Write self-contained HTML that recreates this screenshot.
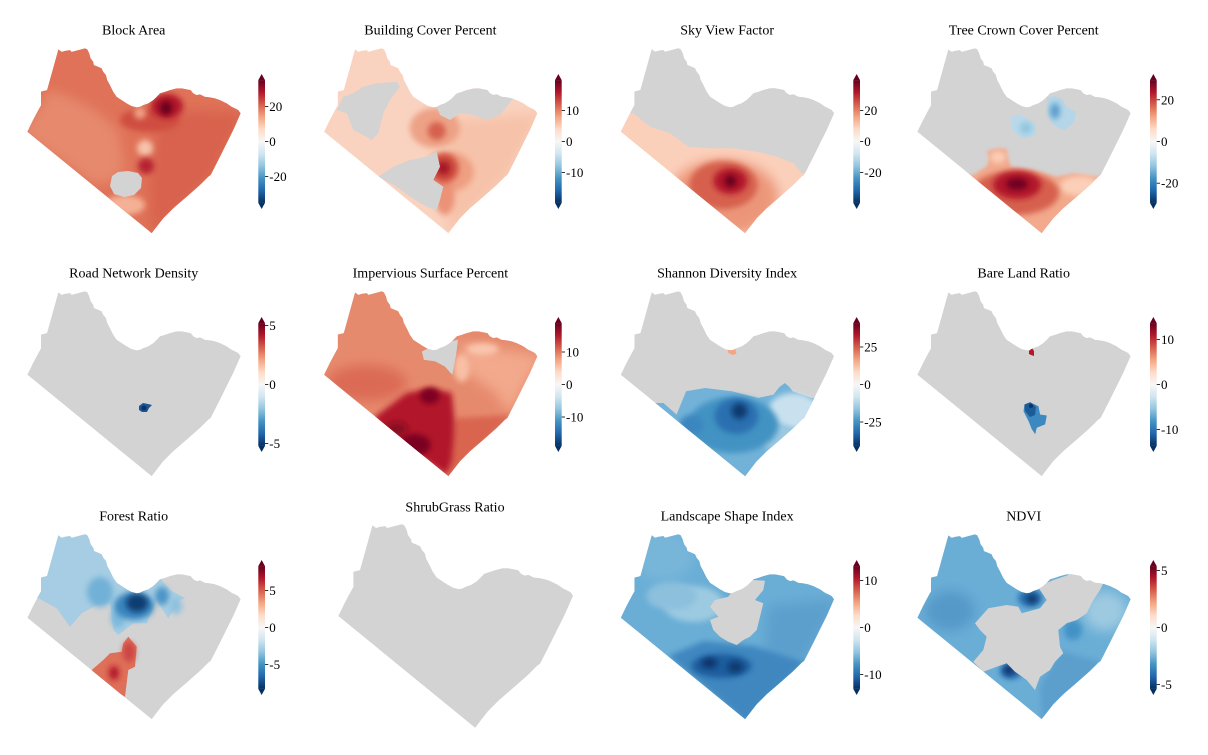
<!DOCTYPE html>
<html><head><meta charset="utf-8"><style>
html,body{margin:0;padding:0;background:#fff;}
svg{display:block;}
text{font-family:"Liberation Serif","DejaVu Serif",serif;fill:#000;}
.t{font-size:14px;text-anchor:middle;}
.k{font-size:13px;}
</style></head><body>
<svg width="1208" height="755" viewBox="0 0 1208 755" xmlns="http://www.w3.org/2000/svg">
<defs>
<path id="T" d="M58.3,49.3 L61.7,51.7 L65,50.7 L70,50 L71.7,51.7 L78.3,50 L85,48.3 L87.3,49.3 L89.3,53.3 L90.7,58.3 L93.3,61.7 L94,65 L98.3,66.7 L101.7,68.3 L103.3,71.7 L106,75 L107.3,80 L110,85 L113.3,91.7 L116.7,96.7 L121.7,100 L126.7,103.3 L131.7,106 L136.7,107.3 L140,106.7 L143.3,105 L148.3,103.3 L153.3,100 L156.7,96.7 L160,93.3 L165,91.7 L170,90 L176.7,88.3 L181.7,88.3 L186.7,89.3 L190.7,90 L193.3,93.3 L196.7,95 L200,94.3 L205,96.7 L210,97.3 L215,98.3 L220,100 L226.7,103.3 L231.7,106.7 L235,108.3 L238.3,110 L240.7,113.3 L233.3,130 L226.7,143.3 L220,156.7 L213.3,170 L210.7,175 L208.3,176.7 L200,185 L186.7,196.7 L173.3,208.3 L163.3,218.3 L156.7,226.7 L151.7,233.3 L27.3,131.7 L33,120 L38.3,110 L41,105.3 L41,91.5 L47,90 L58.3,49.3 Z"/>
<clipPath id="C"><path d="M58.3,49.3 L61.7,51.7 L65,50.7 L70,50 L71.7,51.7 L78.3,50 L85,48.3 L87.3,49.3 L89.3,53.3 L90.7,58.3 L93.3,61.7 L94,65 L98.3,66.7 L101.7,68.3 L103.3,71.7 L106,75 L107.3,80 L110,85 L113.3,91.7 L116.7,96.7 L121.7,100 L126.7,103.3 L131.7,106 L136.7,107.3 L140,106.7 L143.3,105 L148.3,103.3 L153.3,100 L156.7,96.7 L160,93.3 L165,91.7 L170,90 L176.7,88.3 L181.7,88.3 L186.7,89.3 L190.7,90 L193.3,93.3 L196.7,95 L200,94.3 L205,96.7 L210,97.3 L215,98.3 L220,100 L226.7,103.3 L231.7,106.7 L235,108.3 L238.3,110 L240.7,113.3 L233.3,130 L226.7,143.3 L220,156.7 L213.3,170 L210.7,175 L208.3,176.7 L200,185 L186.7,196.7 L173.3,208.3 L163.3,218.3 L156.7,226.7 L151.7,233.3 L27.3,131.7 L33,120 L38.3,110 L41,105.3 L41,91.5 L47,90 L58.3,49.3 Z"/></clipPath>
<linearGradient id="cbg" x1="0" y1="0" x2="0" y2="1">
<stop offset="0" stop-color="#67001f"/><stop offset="0.1" stop-color="#b2182b"/><stop offset="0.2" stop-color="#d6604d"/><stop offset="0.3" stop-color="#f4a582"/><stop offset="0.4" stop-color="#fddbc7"/><stop offset="0.5" stop-color="#f7f7f7"/><stop offset="0.6" stop-color="#d1e5f0"/><stop offset="0.7" stop-color="#92c5de"/><stop offset="0.8" stop-color="#4393c3"/><stop offset="0.9" stop-color="#2166ac"/><stop offset="1" stop-color="#053061"/>
</linearGradient>
<filter id="b2" x="-50%" y="-50%" width="200%" height="200%"><feGaussianBlur stdDeviation="1.5"/></filter>
<filter id="b3" x="-50%" y="-50%" width="200%" height="200%"><feGaussianBlur stdDeviation="3"/></filter>
<filter id="b6" x="-50%" y="-50%" width="200%" height="200%"><feGaussianBlur stdDeviation="6"/></filter>
<g id="CB">
<polygon points="0,-61.4 6.7,-61.4 3.35,-67.5" fill="#67001f"/>
<rect x="0" y="-61.4" width="6.7" height="122.8" fill="url(#cbg)"/>
<polygon points="0,61.4 6.7,61.4 3.35,67.5" fill="#053061"/>
</g>
</defs>
<rect width="1208" height="755" fill="#fff"/>

<!-- Panel 1: Block Area -->
<g transform="translate(0,0)">
<g clip-path="url(#C)">
<use href="#T" fill="#df7258"/>
<path d="M20,132 L41,105 L47,90 L65,95 L95,110 L118,130 L125,170 L110,182 L95,185 Z" fill="#e6896d" filter="url(#b6)"/>
<path d="M160,110 L245,113 L212,176 L152,236 L150,180 Z" fill="#d8624e" filter="url(#b6)"/>
<ellipse cx="150" cy="120" rx="30" ry="12" fill="#cf4e40" filter="url(#b3)"/>
<ellipse cx="167" cy="106" rx="16" ry="12" fill="#b2182b" filter="url(#b3)"/>
<ellipse cx="166" cy="108" rx="6" ry="7" fill="#67001f" filter="url(#b3)"/>
<circle cx="140" cy="113" r="6" fill="#f0a286" filter="url(#b3)"/>
<circle cx="145" cy="148" r="8" fill="#f6c3ab" filter="url(#b3)"/>
<circle cx="146" cy="166" r="8" fill="#b52330" filter="url(#b3)"/>
<ellipse cx="125" cy="205" rx="20" ry="10" fill="#f4b195" filter="url(#b3)"/>
<polygon points="112,176 118,172 128,171 138,173 142,178 141,188 134,195 124,197 114,194 110,186" fill="#d3d3d3"/>
</g>
<text class="t" x="133.7" y="34.5">Block Area</text>
</g>

<!-- Panel 2: Building Cover Percent -->
<g transform="translate(296.7,0)">
<g clip-path="url(#C)">
<use href="#T" fill="#f9d3c0"/>
<path d="M150,120 L245,113 L212,176 L152,236 L150,190 Z" fill="#f6c2a9" filter="url(#b6)"/>
<ellipse cx="138" cy="128" rx="25" ry="20" fill="#eda286" filter="url(#b3)"/>
<circle cx="140" cy="131" r="9" fill="#d6604d" filter="url(#b3)"/>
<ellipse cx="152" cy="172" rx="25" ry="20" fill="#ef9f82" filter="url(#b3)"/>
<ellipse cx="148" cy="197" rx="10" ry="18" fill="#eb9277" filter="url(#b3)"/>
<circle cx="147" cy="168" r="15" fill="#d05040" filter="url(#b3)"/>
<circle cx="146.6" cy="168" r="7" fill="#a51428" filter="url(#b3)"/>
<polygon points="46.6,96.7 56.6,93.3 66.6,86.7 80,83.3 100,81.7 103.3,86.7 93.3,100 86.6,113.3 81.6,133.3 75,140 70,136.7 56.6,130 50,113.3 40,110" fill="#d3d3d3"/>
<polygon points="140,106.7 153.3,96.7 170,90 186.6,87.3 203.3,91.7 216.6,98.3 203.3,115 190,120 176.6,115 163.3,113.3 153.3,120 143.3,115" fill="#d3d3d3"/>
<polygon points="81.6,176.7 96.6,166.7 113.3,160 130,156.7 140,151.7 143.3,166.7 136.6,180 146.6,186.7 143.3,200 140,210 130,206.7 113.3,196.7 100,186.7" fill="#d3d3d3"/>
</g>
<text class="t" x="133.7" y="34.5">Building Cover Percent</text>
</g>

<!-- Panel 3: Sky View Factor -->
<g transform="translate(593.4,0)">
<g clip-path="url(#C)">
<use href="#T" fill="#fbd0bb"/>
<ellipse cx="130" cy="198" rx="55" ry="38" fill="#ec9679" filter="url(#b6)"/>
<ellipse cx="130" cy="185" rx="34" ry="24" fill="#d6604d" filter="url(#b3)"/>
<ellipse cx="137" cy="181" rx="17" ry="13" fill="#b2182b" filter="url(#b3)"/>
<circle cx="137" cy="181" r="6" fill="#67001f" filter="url(#b3)"/>
<polygon points="0,0 260,0 260,170 208.3,173.3 200,163.3 183.3,156.7 163.3,151.7 140,148.3 116.6,148.3 95,146.7 76.6,133.3 56.6,126.7 40,113.3 0,110" fill="#d3d3d3"/>
</g>
<text class="t" x="133.7" y="34.5">Sky View Factor</text>
</g>

<!-- Panel 4: Tree Crown Cover Percent -->
<g transform="translate(890,0)">
<g clip-path="url(#C)">
<use href="#T" fill="#d3d3d3"/>
<polygon points="0,175 83.3,175 97,166 99,158 97,151 104,149 110,148 116.6,149 118,158 121,166.7 143.3,170 166.6,176.7 183.3,173.3 210,176.7 260,180 260,260 0,260" fill="#f2a98c" filter="url(#b2)"/>
<ellipse cx="190" cy="186" rx="20" ry="10" fill="#fbcfb8" filter="url(#b3)"/>
<ellipse cx="108" cy="157" rx="8" ry="6" fill="#fbcdb5" filter="url(#b3)"/>
<ellipse cx="125" cy="193" rx="44" ry="22" fill="#d6604d" filter="url(#b3)"/>
<ellipse cx="127" cy="185" rx="24" ry="14" fill="#b2182b" filter="url(#b3)"/>
<ellipse cx="127" cy="184" rx="11" ry="6" fill="#6f0520" filter="url(#b3)"/>
<polygon points="157,98 165,96 172,99 177,107 186,112 184,122 175,130 168,128 162,123 158,113" fill="#b5d6e8"/>
<ellipse cx="165" cy="111" rx="5" ry="8" fill="#5a9fcd" filter="url(#b3)"/>
<polygon points="120,118 130,114 138,120 145,124 146,133 138,138 128,136 122,128" fill="#b9d9ea"/>
<circle cx="136" cy="128" r="6" fill="#92c5de" filter="url(#b3)"/>
</g>
<text class="t" x="133.7" y="34.5">Tree Crown Cover Percent</text>
</g>

<!-- Panel 5: Road Network Density -->
<g transform="translate(0,243)">
<g clip-path="url(#C)">
<use href="#T" fill="#d3d3d3"/>
<polygon points="139,163 143,160 148,161 152,162 149,165 147,169 142,169 139,167" fill="#1d5594"/>
<circle cx="144" cy="165" r="2.5" fill="#0b3366"/>
</g>
<text class="t" x="133.7" y="34.5">Road Network Density</text>
</g>

<!-- Panel 6: Impervious Surface Percent -->
<g transform="translate(296.7,243)">
<g clip-path="url(#C)">
<use href="#T" fill="#e68a6d"/>
<path d="M160,100 L245,113 L232,136 L213,172 L200,150 L170,130 Z" fill="#f3a98c" filter="url(#b6)"/>
<ellipse cx="186" cy="106" rx="16" ry="6" fill="#f9c6ad" filter="url(#b3)"/>
<ellipse cx="165" cy="125" rx="8" ry="14" fill="#f8c0a5" filter="url(#b3)"/>
<ellipse cx="70" cy="140" rx="40" ry="18" fill="#db6a55" filter="url(#b6)"/>
<path d="M160,175 L215,172 L152,236 L150,200 Z" fill="#d96550" filter="url(#b3)"/>
<polygon points="78,174 110,150 135,145 155,150 158,180 155,218 150,232 110,205 85,190" fill="#b2182b" filter="url(#b3)"/>
<ellipse cx="133" cy="153" rx="10" ry="8" fill="#7d0322" filter="url(#b3)"/>
<ellipse cx="118" cy="202" rx="16" ry="11" fill="#7a0020" filter="url(#b3)"/>
<ellipse cx="100" cy="186" rx="11" ry="7" fill="#8a0a24" filter="url(#b3)"/>
<polygon points="125.2,108.5 138.5,101.8 153.7,98.5 161.3,96.8 159.4,111.7 157.5,121.6 155.6,131.7 148,123.4 138.5,118.4 127.1,116.8" fill="#d3d3d3"/>
</g>
<text class="t" x="133.7" y="34.5">Impervious Surface Percent</text>
</g>

<!-- Panel 7: Shannon Diversity Index -->
<g transform="translate(593.4,243)">
<g clip-path="url(#C)">
<use href="#T" fill="#d3d3d3"/>
<polygon points="0,160 70,160 83.2,171.5 92.7,148.3 111.7,145 138.3,148.3 164.9,154.9 180.1,151.6 186,144 191.5,140 196,144 199.1,148.3 218.1,154.9 260,155 260,260 0,260" fill="#72b2d8"/>
<ellipse cx="200" cy="168" rx="25" ry="18" fill="#c9e1ef" filter="url(#b3)"/>
<ellipse cx="185" cy="195" rx="18" ry="14" fill="#9cc9e1" filter="url(#b3)"/>
<ellipse cx="140" cy="182" rx="45" ry="28" fill="#4393c3" filter="url(#b3)"/>
<ellipse cx="143" cy="173" rx="22" ry="18" fill="#2a70b1" filter="url(#b3)"/>
<circle cx="146" cy="168" r="8" fill="#0d3b6f" filter="url(#b3)"/>
<ellipse cx="98" cy="182" rx="12" ry="10" fill="#3a86bf" filter="url(#b3)"/>
<polygon points="134,106 138,104 142,106 143,111 139,112 135,110" fill="#f4a582"/>
</g>
<text class="t" x="133.7" y="34.5">Shannon Diversity Index</text>
</g>

<!-- Panel 8: Bare Land Ratio -->
<g transform="translate(890,243)">
<g clip-path="url(#C)">
<use href="#T" fill="#d3d3d3"/>
<polygon points="139,108 142,105 144,108 144,113 141,112 139,111" fill="#b2182b"/>
<polygon points="134.5,161.5 140.2,159.2 148.5,163.2 150.1,171.5 156.8,172.5 155.1,181.4 146.8,184.7 145.2,191.3 141.8,186.3 138.5,178 133.5,168.2" fill="#3c88c1"/>
<polygon points="134.5,161.5 140.2,159.2 146,164 145,172 140,174 135,168" fill="#1d5a98"/>
<circle cx="141" cy="163" r="2" fill="#0a3366"/>
</g>
<text class="t" x="133.7" y="34.5">Bare Land Ratio</text>
</g>

<!-- Panel 9: Forest Ratio -->
<g transform="translate(0,486)">
<g clip-path="url(#C)">
<use href="#T" fill="#d3d3d3"/>
<polygon points="0,100 38.3,112.3 56.7,122.3 70,140.7 81.7,127.3 96.7,119 110,117.3 113.3,144 118.3,149 133.3,137.3 146.7,137.3 156.7,114 168.3,132.3 180,114 185,112.3 170,104 160,92 160,0 0,0" fill="#a6cde3"/>
<ellipse cx="100" cy="106" rx="13" ry="15" fill="#72b1d7" filter="url(#b3)"/>
<ellipse cx="118" cy="132" rx="7" ry="10" fill="#7db9db" filter="url(#b3)"/>
<ellipse cx="134" cy="120" rx="20" ry="14" fill="#3a86bf" filter="url(#b3)"/>
<ellipse cx="137" cy="117" rx="11" ry="9" fill="#0b3c72" filter="url(#b3)"/>
<ellipse cx="162" cy="110" rx="7" ry="9" fill="#4b95c8" filter="url(#b3)"/>
<ellipse cx="176" cy="120" rx="6" ry="8" fill="#8cc1dd" filter="url(#b3)"/>
<polygon points="91.7,184 103.3,174 110,167.3 121.7,165.7 123.3,157.3 128.3,150.7 136.7,160.7 135,180.7 128.3,184 125,210.7 113.3,204 100,194" fill="#de6f58"/>
<ellipse cx="129" cy="166" rx="6" ry="10" fill="#cc4444" filter="url(#b3)"/>
<ellipse cx="114" cy="187" rx="5" ry="7" fill="#b2182b" filter="url(#b3)"/>
</g>
<text class="t" x="133.7" y="34.5">Forest Ratio</text>
</g>

<!-- Panel 10: ShrubGrass Ratio -->
<g transform="translate(308.3,471.1) scale(1.1)">
<use href="#T" fill="#d3d3d3"/>
</g>
<text class="t" x="455" y="511.7">ShrubGrass Ratio</text>

<!-- Panel 11: Landscape Shape Index -->
<g transform="translate(593.4,486)">
<g clip-path="url(#C)">
<use href="#T" fill="#6aaed6"/>
<ellipse cx="70" cy="70" rx="30" ry="25" fill="#78b6d9" filter="url(#b6)"/>
<ellipse cx="100" cy="118" rx="30" ry="18" fill="#9ccae1" filter="url(#b3)"/>
<ellipse cx="78" cy="110" rx="25" ry="14" fill="#8cc0dd" filter="url(#b3)"/>
<path d="M175,120 L245,113 L212,176 L170,170 Z" fill="#5b9fcd" filter="url(#b6)"/>
<path d="M75,170 L110,155 L160,160 L212,176 L152,236 Z" fill="#3f87c0" filter="url(#b3)"/>
<ellipse cx="128" cy="180" rx="30" ry="12" fill="#1f5d9e" filter="url(#b3)"/>
<ellipse cx="116" cy="177" rx="8" ry="5" fill="#08306b" filter="url(#b3)"/>
<ellipse cx="142" cy="181" rx="8" ry="6" fill="#0b3a70" filter="url(#b3)"/>
<polygon points="116.6,120.7 121.6,114 134.9,110.7 139.9,104 159.9,94 171.6,94.7 169.9,104 161.6,114 169.9,117.3 166.6,130.7 163.3,144 156.6,150.7 149.9,154 143.3,159 134.9,155.7 126.6,150.7 119.9,144 116.6,134 124.9,130.7" fill="#d3d3d3"/>
</g>
<text class="t" x="133.7" y="34.5">Landscape Shape Index</text>
</g>

<!-- Panel 12: NDVI -->
<g transform="translate(890,486)">
<g clip-path="url(#C)">
<use href="#T" fill="#6aaed6"/>
<ellipse cx="60" cy="125" rx="25" ry="20" fill="#5599c9" filter="url(#b6)"/>
<ellipse cx="215" cy="125" rx="22" ry="20" fill="#9ecae1" filter="url(#b6)"/>
<ellipse cx="183" cy="144" rx="9" ry="10" fill="#4292c6" filter="url(#b3)"/>
<path d="M170,165 L212,176 L152,236 L150,200 Z" fill="#5b9fcd" filter="url(#b3)"/>
<ellipse cx="140" cy="112" rx="12" ry="9" fill="#2a6fb0" filter="url(#b3)"/>
<ellipse cx="142" cy="113" rx="6" ry="5" fill="#0b3a70" filter="url(#b3)"/>
<ellipse cx="121" cy="185" rx="11" ry="8" fill="#2566a8" filter="url(#b3)"/>
<circle cx="119" cy="184" r="5" fill="#08306b" filter="url(#b3)"/>
<polygon points="85,137.3 98.3,122.3 116.7,119 128.3,120.7 131.7,127.3 150,122.3 156.7,114 150,104 148.3,100.7 163.3,94 183.3,87.3 195,87.3 203.3,94 213.3,97.3 210,104 203.3,114 196.7,127.3 186.7,134 176.7,137.3 168.3,144 170,160.7 173.3,167.3 165,175.7 160,184 150,190.7 145,204 136.7,194 125,185.7 116.7,177.3 106.7,180.7 93.3,185.7 83.3,175.7 93.3,164 96.7,150.7 90,144" fill="#d3d3d3"/>
</g>
<text class="t" x="133.7" y="34.5">NDVI</text>
</g>

<!-- Colorbars -->
<g transform="translate(258.3,141.5)">
<use href="#CB"/>
<g stroke="#000" stroke-width="0.8"><line x1="6.7" x2="10" y1="-35" y2="-35"/><line x1="6.7" x2="10" y1="0" y2="0"/><line x1="6.7" x2="10" y1="35" y2="35"/></g>
<text class="k" x="11" y="-30.5">20</text><text class="k" x="11" y="4.5">0</text><text class="k" x="11" y="39.5">-20</text>
</g>
<g transform="translate(555,141.5)">
<use href="#CB"/>
<g stroke="#000" stroke-width="0.8"><line x1="6.7" x2="10" y1="-31" y2="-31"/><line x1="6.7" x2="10" y1="0" y2="0"/><line x1="6.7" x2="10" y1="31" y2="31"/></g>
<text class="k" x="11" y="-26.5">10</text><text class="k" x="11" y="4.5">0</text><text class="k" x="11" y="35.5">-10</text>
</g>
<g transform="translate(853.3,141.5)">
<use href="#CB"/>
<g stroke="#000" stroke-width="0.8"><line x1="6.7" x2="10" y1="-31" y2="-31"/><line x1="6.7" x2="10" y1="0" y2="0"/><line x1="6.7" x2="10" y1="31" y2="31"/></g>
<text class="k" x="11" y="-26.5">20</text><text class="k" x="11" y="4.5">0</text><text class="k" x="11" y="35.5">-20</text>
</g>
<g transform="translate(1150,141.5)">
<use href="#CB"/>
<g stroke="#000" stroke-width="0.8"><line x1="6.7" x2="10" y1="-41.7" y2="-41.7"/><line x1="6.7" x2="10" y1="0" y2="0"/><line x1="6.7" x2="10" y1="41.7" y2="41.7"/></g>
<text class="k" x="11" y="-37.2">20</text><text class="k" x="11" y="4.5">0</text><text class="k" x="11" y="46.2">-20</text>
</g>
<g transform="translate(258.3,384.5)">
<use href="#CB"/>
<g stroke="#000" stroke-width="0.8"><line x1="6.7" x2="10" y1="-59" y2="-59"/><line x1="6.7" x2="10" y1="0" y2="0"/><line x1="6.7" x2="10" y1="59" y2="59"/></g>
<text class="k" x="11" y="-54.5">5</text><text class="k" x="11" y="4.5">0</text><text class="k" x="11" y="63.5">-5</text>
</g>
<g transform="translate(555,384.5)">
<use href="#CB"/>
<g stroke="#000" stroke-width="0.8"><line x1="6.7" x2="10" y1="-32.5" y2="-32.5"/><line x1="6.7" x2="10" y1="0" y2="0"/><line x1="6.7" x2="10" y1="32.5" y2="32.5"/></g>
<text class="k" x="11" y="-28">10</text><text class="k" x="11" y="4.5">0</text><text class="k" x="11" y="37">-10</text>
</g>
<g transform="translate(853.3,384.5)">
<use href="#CB"/>
<g stroke="#000" stroke-width="0.8"><line x1="6.7" x2="10" y1="-37.5" y2="-37.5"/><line x1="6.7" x2="10" y1="0" y2="0"/><line x1="6.7" x2="10" y1="37.5" y2="37.5"/></g>
<text class="k" x="11" y="-33">25</text><text class="k" x="11" y="4.5">0</text><text class="k" x="11" y="42">-25</text>
</g>
<g transform="translate(1150,384.5)">
<use href="#CB"/>
<g stroke="#000" stroke-width="0.8"><line x1="6.7" x2="10" y1="-45" y2="-45"/><line x1="6.7" x2="10" y1="0" y2="0"/><line x1="6.7" x2="10" y1="45" y2="45"/></g>
<text class="k" x="11" y="-40.5">10</text><text class="k" x="11" y="4.5">0</text><text class="k" x="11" y="49.5">-10</text>
</g>
<g transform="translate(258.3,627.5)">
<use href="#CB"/>
<g stroke="#000" stroke-width="0.8"><line x1="6.7" x2="10" y1="-37" y2="-37"/><line x1="6.7" x2="10" y1="0" y2="0"/><line x1="6.7" x2="10" y1="37" y2="37"/></g>
<text class="k" x="11" y="-32.5">5</text><text class="k" x="11" y="4.5">0</text><text class="k" x="11" y="41.5">-5</text>
</g>
<g transform="translate(853.3,627.5)">
<use href="#CB"/>
<g stroke="#000" stroke-width="0.8"><line x1="6.7" x2="10" y1="-47" y2="-47"/><line x1="6.7" x2="10" y1="0" y2="0"/><line x1="6.7" x2="10" y1="47" y2="47"/></g>
<text class="k" x="11" y="-42.5">10</text><text class="k" x="11" y="4.5">0</text><text class="k" x="11" y="51.5">-10</text>
</g>
<g transform="translate(1150,627.5)">
<use href="#CB"/>
<g stroke="#000" stroke-width="0.8"><line x1="6.7" x2="10" y1="-57" y2="-57"/><line x1="6.7" x2="10" y1="0" y2="0"/><line x1="6.7" x2="10" y1="57" y2="57"/></g>
<text class="k" x="11" y="-52.5">5</text><text class="k" x="11" y="4.5">0</text><text class="k" x="11" y="61.5">-5</text>
</g>
</svg>
</body></html>
